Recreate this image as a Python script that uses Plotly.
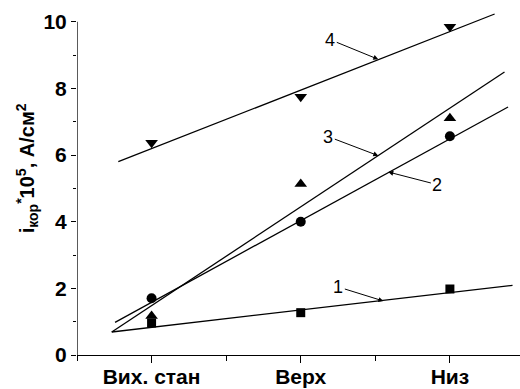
import plotly.graph_objects as go

categories = ["Вих. стан", "Верх", "Низ"]
cat_pos = [1, 2, 3]

s1 = [0.96, 1.27, 1.98]   # squares
s2 = [1.70, 4.00, 6.56]   # circles
s3 = [1.17, 5.13, 7.10]   # triangle-up
s4 = [6.37, 7.75, 9.85]   # triangle-down

# fitted straight lines (endpoints)
fit1_x = [0.733, 3.42]; fit1_y = [0.69, 2.09]
fit2_x = [0.755, 3.39]; fit2_y = [0.98, 7.44]
fit3_x = [0.733, 3.366]; fit3_y = [0.69, 8.49]
fit4_x = [0.777, 3.30]; fit4_y = [5.80, 10.23]

# curve labels: text, arrow tip (x, y), text position (x, y)
labels = ["1", "2", "3", "4"]
tip_x = [2.554, 2.587, 2.52, 2.52]
tip_y = [1.62, 5.49, 5.98, 8.87]
txt_x = [2.252, 2.916, 2.185, 2.198]
txt_y = [2.04, 5.11, 6.55, 9.46]

y_ticks = [0, 2, 4, 6, 8, 10]

fig = go.Figure()
for fx, fy in [(fit1_x, fit1_y), (fit2_x, fit2_y), (fit3_x, fit3_y), (fit4_x, fit4_y)]:
    fig.add_trace(go.Scatter(x=fx, y=fy, mode="lines",
                             line=dict(color="black", width=1.3), showlegend=False, hoverinfo="skip"))

for ys, sym, sz in [(s1, "square", 9), (s2, "circle", 10), (s3, "triangle-up", 11), (s4, "triangle-down", 11)]:
    fig.add_trace(go.Scatter(x=cat_pos, y=ys, mode="markers",
                             marker=dict(symbol=sym, size=sz, color="black", line=dict(width=0)),
                             showlegend=False, cliponaxis=False))

for t, tx, ty, ax, ay in zip(labels, tip_x, tip_y, txt_x, txt_y):
    fig.add_annotation(x=tx, y=ty, ax=ax, ay=ay, xref="x", yref="y", axref="x", ayref="y",
                       text=t, showarrow=True, arrowhead=2, arrowsize=1, arrowwidth=1,
                       arrowcolor="black", standoff=0, startstandoff=0,
                       font=dict(family="Liberation Sans, Arial", size=18, color="black"))

# y axis line only up to 10
fig.add_shape(type="line", xref="x", yref="y", x0=0.5, x1=0.5, y0=0, y1=10,
              line=dict(color="black", width=1.3))

fig.add_annotation(xref="paper", yref="y", x=0, y=5.6, xshift=-50, xanchor="center", yanchor="middle",
                   text="i<sub>кор</sub><sup>*</sup>10<sup>5</sup>, А/см<sup>2</sup>",
                   textangle=-90, showarrow=False,
                   font=dict(family="Liberation Sans, Arial", size=20, color="black", weight="bold"))

tick_font = dict(family="Liberation Sans, Arial", size=21, color="black", weight="bold")

fig.update_xaxes(range=[0.5, 3.47], tickmode="array", tickvals=cat_pos, ticktext=categories,
                 showline=True, linecolor="black", linewidth=1.3, showgrid=False, zeroline=False,
                 ticks="outside", ticklen=7, tickwidth=1.3, tickcolor="black", tickfont=tick_font,
                 automargin=False, ticklabelstandoff=-4,
                 minor=dict(tickmode="array", tickvals=[0.5, 1.5, 2.5], ticks="outside",
                            ticklen=5, tickwidth=1.3, tickcolor="black", showgrid=False))
fig.update_yaxes(range=[0, 10.5], tickmode="array", tickvals=y_ticks,
                 showline=False, showgrid=False, zeroline=False,
                 ticks="outside", ticklen=5, tickwidth=1.3, tickcolor="black", tickfont=tick_font,
                 automargin=False,
                 minor=dict(tickmode="array", tickvals=[1, 3, 5, 7, 9], ticks="outside",
                            ticklen=3, tickwidth=1.3, tickcolor="black", showgrid=False))

fig.update_layout(width=520, height=389, margin=dict(l=77, r=0, t=5, b=34),
                  plot_bgcolor="white", paper_bgcolor="white")

fig.write_html("out.html", config={"displayModeBar": False},
               post_script="document.body.style.margin='0';document.body.style.overflow='hidden';")
